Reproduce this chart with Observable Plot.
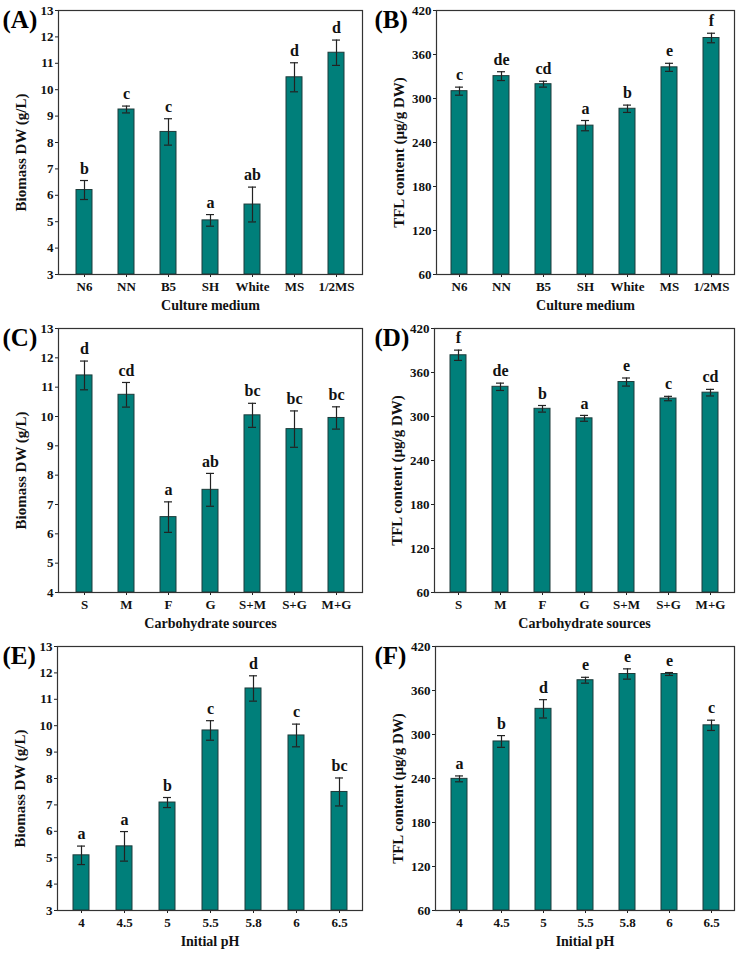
<!DOCTYPE html>
<html>
<head>
<meta charset="utf-8">
<script src="https://cdn.jsdelivr.net/npm/d3@7"></script>
<script src="https://cdn.jsdelivr.net/npm/@observablehq/plot@0.6"></script>
<style>
  html, body { margin: 0; padding: 0; background: #fff; }
  #root { position: relative; width: 744px; height: 960px; background: #fff; }
  .panel { position: absolute; width: 372px; height: 318px; }
</style>
</head>
<body>
<div id="root"></div>
<script>
// ---- Data ----
const mediumCats = ["N6", "NN", "B5", "SH", "White", "MS", "1/2MS"];
const biomassMedium = [6.2, 9.25, 8.4, 5.05, 5.65, 10.47, 11.4];
const biomassMediumErr = [0.36, 0.13, 0.5, 0.22, 0.66, 0.55, 0.48];
const biomassMediumSig = ["b", "c", "c", "a", "ab", "d", "d"];
const tflMedium = [310, 330.5, 319.5, 263, 286, 342.5, 382.5];
const tflMediumErr = [5.5, 6, 4, 7, 5, 5.5, 6.5];
const tflMediumSig = ["c", "de", "cd", "a", "b", "e", "f"];

const carbCats = ["S", "M", "F", "G", "S+M", "S+G", "M+G"];
const biomassCarb = [11.4, 10.74, 6.57, 7.5, 10.04, 9.57, 9.95];
const biomassCarbErr = [0.49, 0.42, 0.52, 0.56, 0.41, 0.62, 0.38];
const biomassCarbSig = ["d", "cd", "a", "ab", "bc", "bc", "bc"];
const tflCarb = [383.5, 340.5, 310.5, 297.5, 347, 324.5, 332.5];
const tflCarbErr = [7, 5, 4.5, 4, 5.5, 3, 4.5];
const tflCarbSig = ["f", "de", "b", "a", "e", "c", "cd"];

const phCats = ["4", "4.5", "5", "5.5", "5.8", "6", "6.5"];
const biomassPH = [5.09, 5.43, 7.09, 9.82, 11.41, 9.63, 7.49];
const biomassPHErr = [0.35, 0.56, 0.19, 0.37, 0.48, 0.43, 0.53];
const biomassPHSig = ["a", "a", "b", "c", "d", "c", "bc"];
const tflPH = [239.5, 290.5, 335, 374, 382.5, 382.5, 312.5];
const tflPHErr = [4, 8, 12.5, 4, 7, 2, 7];
const tflPHSig = ["a", "b", "d", "e", "e", "e", "c"];

const biomassTicks = [3, 4, 5, 6, 7, 8, 9, 10, 11, 12, 13];
const biomassTicksC = [4, 5, 6, 7, 8, 9, 10, 11, 12, 13];
const tflTicks = [60, 120, 180, 240, 300, 360, 420];

// ---- Drawing ----
const FONT = "'Liberation Serif', 'Times New Roman', serif";
const BAR = "#007f7a";
const INK = "#222";

function panel({cats, vals, errs, sigs, yDomain, yTicks, yLabel, xLabel, tag, left, top, marginLeft}) {
  const data = cats.map((c, i) => ({cat: c, v: vals[i], e: errs[i], s: sigs[i], lo: vals[i] - errs[i], hi: vals[i] + errs[i]}));
  const plot = Plot.plot({
    width: 372,
    height: 318,
    marginLeft: marginLeft,
    marginRight: 10,
    marginTop: 10,
    marginBottom: 44,
    style: {fontFamily: FONT, fontWeight: "bold", fontSize: "13px", color: "#111", background: "#fff", overflow: "visible"},
    x: {domain: cats, paddingInner: 0.63, paddingOuter: 0.35, label: null},
    y: {domain: yDomain, label: null},
    marks: [
      Plot.barY(data, {x: "cat", y1: yDomain[0], y2: "v", fill: BAR, stroke: "#1d3b3a", strokeWidth: 1}),
      Plot.ruleX(data, {x: "cat", y1: "lo", y2: "hi", stroke: INK, strokeWidth: 1.2}),
      Plot.tickY(data, {x: "cat", y: "hi", stroke: INK, strokeWidth: 1.2, insetLeft: 4, insetRight: 4}),
      Plot.tickY(data, {x: "cat", y: "lo", stroke: INK, strokeWidth: 1.2, insetLeft: 4, insetRight: 4}),
      Plot.text(data, {x: "cat", y: "hi", text: "s", dy: -12, lineAnchor: "middle", fontSize: 16, fontWeight: "bold", fill: "#111"}),
      Plot.axisY({ticks: yTicks, tickSize: 3, tickPadding: 2, label: null, stroke: INK, fontSize: 13}),
      Plot.axisX({tickSize: 3, tickPadding: 4, label: null, stroke: INK, fontSize: 13}),
      Plot.frame({stroke: "#333", strokeWidth: 1.2}),
      Plot.text([xLabel], {frameAnchor: "bottom", dy: 31, textAnchor: "middle", lineAnchor: "middle", fontSize: 14, fontWeight: "bold", fill: "#111"}),
      Plot.text([yLabel], {frameAnchor: "left", dx: -37, dy: 10, rotate: -90, textAnchor: "middle", lineAnchor: "middle", fontSize: 15, fontWeight: "bold", fill: "#111"}),
      Plot.text([tag], {frameAnchor: "top-left", dx: 2 - marginLeft, dy: 9, textAnchor: "start", lineAnchor: "middle", fontSize: 25, fontWeight: "bold", fill: "#000"})
    ]
  });
  const div = document.createElement("div");
  div.className = "panel";
  div.style.left = left + "px";
  div.style.top = top + "px";
  div.appendChild(plot);
  document.getElementById("root").appendChild(div);
}

const bioLabel = "Biomass DW (g/L)";
const tflLabel = "TFL content (\u00b5g/g DW)";

panel({cats: mediumCats, vals: biomassMedium, errs: biomassMediumErr, sigs: biomassMediumSig,
  yDomain: [3, 13], yTicks: biomassTicks, yLabel: bioLabel, xLabel: "Culture medium", tag: "(A)", left: 0, top: 0, marginLeft: 58});
panel({cats: mediumCats, vals: tflMedium, errs: tflMediumErr, sigs: tflMediumSig,
  yDomain: [60, 420], yTicks: tflTicks, yLabel: tflLabel, xLabel: "Culture medium", tag: "(B)", left: 372, top: 0, marginLeft: 64});
panel({cats: carbCats, vals: biomassCarb, errs: biomassCarbErr, sigs: biomassCarbSig,
  yDomain: [4, 13], yTicks: biomassTicksC, yLabel: bioLabel, xLabel: "Carbohydrate sources", tag: "(C)", left: 0, top: 318, marginLeft: 58});
panel({cats: carbCats, vals: tflCarb, errs: tflCarbErr, sigs: tflCarbSig,
  yDomain: [60, 420], yTicks: tflTicks, yLabel: tflLabel, xLabel: "Carbohydrate sources", tag: "(D)", left: 372, top: 318, marginLeft: 62});
panel({cats: phCats, vals: biomassPH, errs: biomassPHErr, sigs: biomassPHSig,
  yDomain: [3, 13], yTicks: biomassTicks, yLabel: bioLabel, xLabel: "Initial pH", tag: "(E)", left: 0, top: 636, marginLeft: 57});
panel({cats: phCats, vals: tflPH, errs: tflPHErr, sigs: tflPHSig,
  yDomain: [60, 420], yTicks: tflTicks, yLabel: tflLabel, xLabel: "Initial pH", tag: "(F)", left: 372, top: 636, marginLeft: 63});
</script>
</body>
</html>
